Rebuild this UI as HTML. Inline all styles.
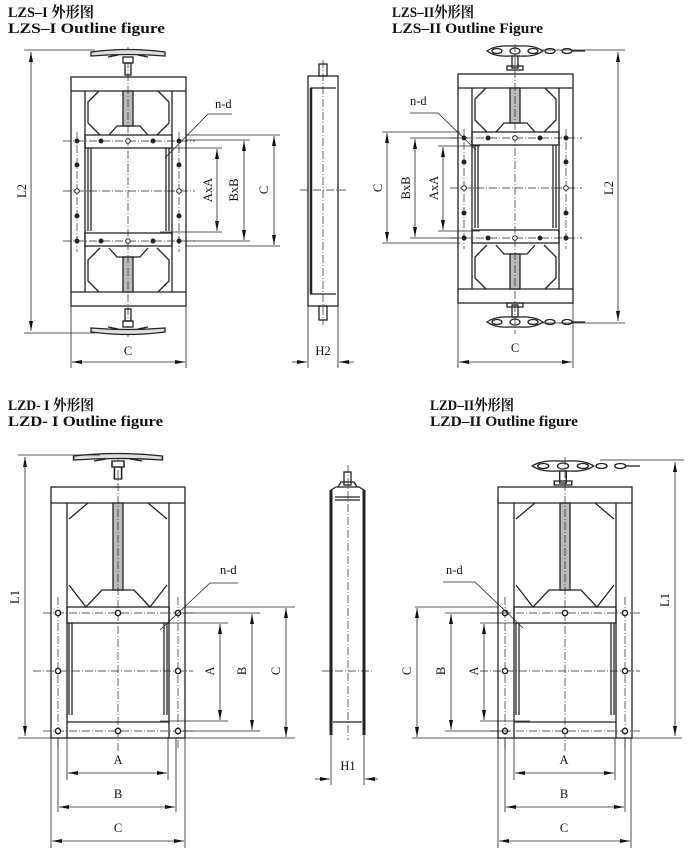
<!DOCTYPE html>
<html><head><meta charset="utf-8"><style>
html,body{margin:0;padding:0;background:#fff}
svg{display:block}
.t{font-family:"Liberation Serif","Noto Serif CJK SC",serif;font-weight:bold;font-size:15px;fill:#111}
.l{font-family:"Liberation Serif",serif;font-size:12.5px;fill:#111}
</style></head><body>
<svg width="690" height="866" viewBox="0 0 690 866" xmlns="http://www.w3.org/2000/svg">
<defs>
<marker id="a" viewBox="0 0 10 6" refX="10" refY="3" markerWidth="10" markerHeight="6" orient="auto-start-reverse" markerUnits="userSpaceOnUse"><path d="M0,1 L10,3 L0,5 z" fill="#111"/></marker>
<g id="zs" fill="none" stroke="#222" stroke-width="1.3">
 <rect x="0" y="0" width="115" height="229"/>
 <line x1="0" y1="14" x2="115" y2="14"/><line x1="0" y1="215" x2="115" y2="215"/>
 <line x1="14" y1="14" x2="14" y2="215"/><line x1="101" y1="14" x2="101" y2="215"/>
 <rect x="14" y="58" width="87" height="13"/><rect x="14" y="156" width="87" height="13"/>
 <line x1="17" y1="71" x2="17" y2="154"/><line x1="20" y1="71" x2="20" y2="154"/>
 <line x1="98" y1="71" x2="98" y2="154"/><line x1="95" y1="71" x2="95" y2="154"/>
 <polyline points="28,14 17,25 17,46 29,58"/><polyline points="87,14 98,25 98,46 86,58"/>
 <polyline points="38,58 46,49 69,49 77,58"/>
 <polyline points="28,215 17,204 17,183 29,171"/><polyline points="87,215 98,204 98,183 86,171"/>
 <polyline points="38,171 46,180 69,180 77,171"/>
 <rect x="52" y="14" width="10" height="35" fill="#bbb"/><rect x="52" y="180" width="10" height="35" fill="#bbb"/>
 <g stroke-width="0.7" stroke-dasharray="8,2,1,2"><line x1="57" y1="-30" x2="57" y2="260"/><line x1="-8" y1="64" x2="124" y2="64"/><line x1="-8" y1="164" x2="124" y2="164"/><line x1="6" y1="55" x2="6" y2="175"/><line x1="108" y1="55" x2="108" y2="175"/><line x1="-8" y1="114" x2="124" y2="114"/></g>
 <g fill="#222" stroke="none"><circle cx="6" cy="64" r="2.5"/><circle cx="30" cy="64" r="2.5"/><circle cx="82" cy="64" r="2.5"/><circle cx="108" cy="64" r="2.5"/><circle cx="6" cy="164" r="2.5"/><circle cx="30" cy="164" r="2.5"/><circle cx="82" cy="164" r="2.5"/><circle cx="108" cy="164" r="2.5"/><circle cx="6" cy="88" r="2.5"/><circle cx="6" cy="139" r="2.5"/><circle cx="108" cy="88" r="2.5"/><circle cx="108" cy="139" r="2.5"/></g>
 <g fill="#fff" stroke-width="1"><circle cx="57" cy="64" r="2.3"/><circle cx="57" cy="164" r="2.3"/><circle cx="6" cy="114" r="2.3"/><circle cx="108" cy="114" r="2.3"/></g>
</g>
<g id="zd" fill="none" stroke="#222" stroke-width="1.3">
 <rect x="0" y="0" width="134" height="251"/>
 <line x1="0" y1="16" x2="134" y2="16"/>
 <line x1="16" y1="16" x2="16" y2="251"/><line x1="118" y1="16" x2="118" y2="251"/>
 <rect x="16" y="120" width="102" height="16"/>
 <line x1="16" y1="235" x2="118" y2="235"/>
 <line x1="18" y1="136" x2="18" y2="228"/><line x1="21" y1="136" x2="21" y2="228"/>
 <line x1="116" y1="136" x2="116" y2="228"/><line x1="113" y1="136" x2="113" y2="228"/>
 <polyline points="37,16 18,32"/><polyline points="97,16 116,32"/>
 <polyline points="18,98 35,120 51,103 83,103 99,120 116,98"/>
 <rect x="62" y="16" width="10" height="87" fill="#bbb"/>
 <g stroke-width="0.7" stroke-dasharray="8,2,1,2"><line x1="67" y1="-30" x2="67" y2="265"/><line x1="-8" y1="126" x2="142" y2="126"/><line x1="-18" y1="184" x2="142" y2="184"/><line x1="-8" y1="244" x2="142" y2="244"/><line x1="7" y1="110" x2="7" y2="262"/><line x1="127" y1="110" x2="127" y2="262"/></g>
 <g fill="#fff" stroke-width="1.5"><circle cx="7" cy="126" r="2.6"/><circle cx="67" cy="126" r="2.6"/><circle cx="127" cy="126" r="2.6"/><circle cx="7" cy="184" r="2.6"/><circle cx="127" cy="184" r="2.6"/><circle cx="7" cy="244" r="2.6"/><circle cx="67" cy="244" r="2.6"/><circle cx="127" cy="244" r="2.6"/></g>
</g>
<g id="hw" fill="none" stroke="#222" stroke-width="1.3">
 <path d="M-37,-3 Q0,-8 37,-3 L37,1 Q0,-2 -37,1 Z" fill="#ddd"/>
 <path d="M-10,0 L-20,2 M10,0 L20,2"/>
 <rect x="-5" y="2" width="10" height="6" fill="#fff"/><rect x="-3" y="8" width="6" height="12"/>
</g>
<g id="ch" fill="none" stroke="#222" stroke-width="1.3">
 <path d="M-28,0 Q-20,-6 -5,-5 L5,-5 Q20,-6 28,0 Q20,6 5,5 L-5,5 Q-20,6 -28,0Z"/>
 <ellipse cx="0" cy="0" rx="5" ry="3"/><ellipse cx="-18" cy="0" rx="5" ry="2.5"/><ellipse cx="18" cy="0" rx="5" ry="2.5"/>
 <ellipse cx="35" cy="0" rx="5" ry="2.5"/><ellipse cx="52" cy="0" rx="5" ry="2.5"/><line x1="57" y1="0" x2="70" y2="0"/>
 <rect x="-3" y="5" width="6" height="12"/><rect x="-8" y="15" width="16" height="4"/>
</g>
</defs>

<text class="t" x="8" y="17" textLength="86" lengthAdjust="spacingAndGlyphs">LZS–I 外形图</text>
<text class="t" x="8" y="33" textLength="157" lengthAdjust="spacingAndGlyphs">LZS–I Outline figure</text>
<text class="t" x="392" y="17" textLength="82" lengthAdjust="spacingAndGlyphs">LZS–II外形图</text>
<text class="t" x="392" y="33" textLength="151" lengthAdjust="spacingAndGlyphs">LZS–II Outline Figure</text>
<text class="t" x="8" y="410" textLength="86" lengthAdjust="spacingAndGlyphs">LZD- I 外形图</text>
<text class="t" x="8" y="426" textLength="155" lengthAdjust="spacingAndGlyphs">LZD- I  Outline figure</text>
<text class="t" x="430" y="410" textLength="84" lengthAdjust="spacingAndGlyphs">LZD–II外形图</text>
<text class="t" x="430" y="426" textLength="148" lengthAdjust="spacingAndGlyphs">LZD–II Outline figure</text>

<!-- LZS-I -->
<use href="#zs" x="71" y="77"/>
<use href="#hw" x="128" y="55"/>
<use href="#hw" transform="translate(128,329) scale(1,-1)"/>
<g stroke="#222" stroke-width="0.8" fill="none">
 <line x1="24" y1="50" x2="95" y2="50"/><line x1="24" y1="333" x2="95" y2="333"/>
 <line x1="31" y1="52" x2="31" y2="331" marker-start="url(#a)" marker-end="url(#a)"/>
 <line x1="71" y1="306" x2="71" y2="368"/><line x1="186" y1="306" x2="186" y2="368"/>
 <line x1="72" y1="362" x2="185" y2="362" marker-start="url(#a)" marker-end="url(#a)"/>
 <line x1="186" y1="135" x2="280" y2="135"/><line x1="186" y1="246" x2="280" y2="246"/>
 <line x1="186" y1="140" x2="250" y2="140"/><line x1="186" y1="241" x2="250" y2="241"/>
 <line x1="160" y1="148" x2="222" y2="148"/><line x1="160" y1="232" x2="222" y2="232"/>
 <line x1="274" y1="136" x2="274" y2="245" marker-start="url(#a)" marker-end="url(#a)"/>
 <line x1="244" y1="141" x2="244" y2="240" marker-start="url(#a)" marker-end="url(#a)"/>
 <line x1="217" y1="149" x2="217" y2="231" marker-start="url(#a)" marker-end="url(#a)"/>
 <polyline points="232,114 208,114 165,158"/>
</g>
<text class="l" x="128" y="355" text-anchor="middle">C</text>
<text class="l" transform="translate(26,191) rotate(-90)" text-anchor="middle">L2</text>
<text class="l" transform="translate(212,190) rotate(-90)" text-anchor="middle">AxA</text>
<text class="l" transform="translate(238,190) rotate(-90)" text-anchor="middle">BxB</text>
<text class="l" transform="translate(268,190) rotate(-90)" text-anchor="middle">C</text>
<text class="l" x="215" y="108">n-d</text>

<!-- side H2 -->
<g stroke="#222" fill="none" stroke-width="1.3">
 <rect x="308" y="76" width="30" height="230"/>
 <line x1="310" y1="88" x2="336" y2="88"/><line x1="310" y1="294" x2="336" y2="294"/>
 <line x1="311" y1="88" x2="311" y2="294" stroke-width="2.5"/>
 <rect x="319" y="64" width="8" height="12"/><rect x="319" y="306" width="8" height="14"/>
 <g stroke-width="0.7" stroke-dasharray="8,2,1,2"><line x1="323" y1="60" x2="323" y2="325"/><line x1="300" y1="190" x2="346" y2="190"/></g>
 <g stroke-width="0.8"><line x1="308" y1="306" x2="308" y2="368"/><line x1="338" y1="306" x2="338" y2="368"/>
 <line x1="292" y1="362" x2="307" y2="362" marker-end="url(#a)"/><line x1="354" y1="362" x2="339" y2="362" marker-end="url(#a)"/></g>
</g>
<text class="l" x="323" y="355" text-anchor="middle">H2</text>

<!-- LZS-II -->
<use href="#zs" x="458" y="74"/>
<use href="#ch" x="515" y="51"/>
<use href="#ch" transform="translate(515,322) scale(1,-1)"/>
<g stroke="#222" stroke-width="0.8" fill="none">
 <line x1="540" y1="50" x2="625" y2="50"/><line x1="540" y1="323" x2="625" y2="323"/>
 <line x1="618" y1="52" x2="618" y2="321" marker-start="url(#a)" marker-end="url(#a)"/>
 <line x1="458" y1="303" x2="458" y2="368"/><line x1="573" y1="303" x2="573" y2="368"/>
 <line x1="459" y1="362" x2="572" y2="362" marker-start="url(#a)" marker-end="url(#a)"/>
 <line x1="382" y1="132" x2="460" y2="132"/><line x1="382" y1="243" x2="460" y2="243"/>
 <line x1="410" y1="138" x2="460" y2="138"/><line x1="410" y1="238" x2="460" y2="238"/>
 <line x1="438" y1="146" x2="480" y2="146"/><line x1="438" y1="231" x2="480" y2="231"/>
 <line x1="387" y1="133" x2="387" y2="242" marker-start="url(#a)" marker-end="url(#a)"/>
 <line x1="415" y1="139" x2="415" y2="237" marker-start="url(#a)" marker-end="url(#a)"/>
 <line x1="443" y1="147" x2="443" y2="230" marker-start="url(#a)" marker-end="url(#a)"/>
 <polyline points="410,113 438,113 476,150"/>
</g>
<text class="l" x="515" y="352" text-anchor="middle">C</text>
<text class="l" transform="translate(613,188) rotate(-90)" text-anchor="middle">L2</text>
<text class="l" transform="translate(382,188) rotate(-90)" text-anchor="middle">C</text>
<text class="l" transform="translate(410,188) rotate(-90)" text-anchor="middle">BxB</text>
<text class="l" transform="translate(438,188) rotate(-90)" text-anchor="middle">AxA</text>
<text class="l" x="410" y="105">n-d</text>

<!-- LZD-I -->
<use href="#zd" x="51" y="487"/>
<use href="#hw" transform="translate(118,459) scale(1.2,1)"/>
<g stroke="#222" stroke-width="0.8" fill="none">
 <line x1="18" y1="455" x2="100" y2="455"/><line x1="18" y1="738" x2="295" y2="738"/>
 <line x1="25" y1="457" x2="25" y2="736" marker-start="url(#a)" marker-end="url(#a)"/>
 <line x1="185" y1="607" x2="295" y2="607"/><line x1="180" y1="613" x2="260" y2="613"/><line x1="160" y1="623" x2="228" y2="623"/>
 <line x1="160" y1="721" x2="228" y2="721"/><line x1="180" y1="731" x2="260" y2="731"/>
 <line x1="286" y1="608" x2="286" y2="737" marker-start="url(#a)" marker-end="url(#a)"/>
 <line x1="252" y1="614" x2="252" y2="730" marker-start="url(#a)" marker-end="url(#a)"/>
 <line x1="220" y1="624" x2="220" y2="720" marker-start="url(#a)" marker-end="url(#a)"/>
 <line x1="67" y1="738" x2="67" y2="780"/><line x1="168" y1="738" x2="168" y2="780"/>
 <line x1="58" y1="738" x2="58" y2="812"/><line x1="176" y1="738" x2="176" y2="812"/>
 <line x1="51" y1="738" x2="51" y2="848"/><line x1="185" y1="738" x2="185" y2="848"/>
 <line x1="68" y1="773" x2="167" y2="773" marker-start="url(#a)" marker-end="url(#a)"/>
 <line x1="59" y1="807" x2="175" y2="807" marker-start="url(#a)" marker-end="url(#a)"/>
 <line x1="52" y1="841" x2="184" y2="841" marker-start="url(#a)" marker-end="url(#a)"/>
 <polyline points="238,583 210,583 160,630"/>
</g>
<text class="l" x="118" y="764" text-anchor="middle">A</text>
<text class="l" x="118" y="798" text-anchor="middle">B</text>
<text class="l" x="118" y="832" text-anchor="middle">C</text>
<text class="l" transform="translate(19,597) rotate(-90)" text-anchor="middle">L1</text>
<text class="l" transform="translate(214,671) rotate(-90)" text-anchor="middle">A</text>
<text class="l" transform="translate(246,671) rotate(-90)" text-anchor="middle">B</text>
<text class="l" transform="translate(280,671) rotate(-90)" text-anchor="middle">C</text>
<text class="l" x="220" y="574">n-d</text>

<!-- side H1 -->
<g stroke="#222" fill="none" stroke-width="1.3">
 <path d="M331,735 L331,490 L336,487 L359,487 L364,490 L364,735"/>
 <line x1="331" y1="735" x2="331" y2="490" stroke-width="3"/><line x1="364" y1="735" x2="364" y2="490" stroke-width="3"/>
 <line x1="335" y1="497" x2="360" y2="497"/><line x1="335" y1="500" x2="360" y2="500"/>
 <line x1="333" y1="722" x2="362" y2="722"/>
 <rect x="344" y="472" width="7" height="13"/><path d="M338,487 L341,482 L354,482 L357,487"/>
 <g stroke-width="0.7" stroke-dasharray="8,2,1,2"><line x1="348" y1="465" x2="348" y2="740"/><line x1="322" y1="671" x2="374" y2="671"/></g>
 <g stroke-width="0.8"><line x1="331" y1="735" x2="331" y2="785"/><line x1="364" y1="735" x2="364" y2="785"/>
 <line x1="315" y1="779" x2="330" y2="779" marker-end="url(#a)"/><line x1="378" y1="779" x2="365" y2="779" marker-end="url(#a)"/></g>
</g>
<text class="l" x="348" y="770" text-anchor="middle">H1</text>

<!-- LZD-II -->
<use href="#zd" x="498" y="487"/>
<use href="#ch" transform="translate(563,466) scale(1.1,1)"/>
<g stroke="#222" stroke-width="0.8" fill="none">
 <line x1="600" y1="460" x2="684" y2="460"/><line x1="412" y1="738" x2="682" y2="738"/>
 <line x1="675" y1="462" x2="675" y2="736" marker-start="url(#a)" marker-end="url(#a)"/>
 <line x1="415" y1="607" x2="498" y2="607"/><line x1="445" y1="613" x2="510" y2="613"/><line x1="480" y1="623" x2="530" y2="623"/>
 <line x1="480" y1="721" x2="530" y2="721"/><line x1="445" y1="731" x2="510" y2="731"/>
 <line x1="417" y1="608" x2="417" y2="737" marker-start="url(#a)" marker-end="url(#a)"/>
 <line x1="451" y1="614" x2="451" y2="730" marker-start="url(#a)" marker-end="url(#a)"/>
 <line x1="484" y1="624" x2="484" y2="720" marker-start="url(#a)" marker-end="url(#a)"/>
 <line x1="514" y1="738" x2="514" y2="780"/><line x1="615" y1="738" x2="615" y2="780"/>
 <line x1="505" y1="738" x2="505" y2="812"/><line x1="625" y1="738" x2="625" y2="812"/>
 <line x1="498" y1="738" x2="498" y2="848"/><line x1="631" y1="738" x2="631" y2="848"/>
 <line x1="515" y1="773" x2="614" y2="773" marker-start="url(#a)" marker-end="url(#a)"/>
 <line x1="506" y1="807" x2="624" y2="807" marker-start="url(#a)" marker-end="url(#a)"/>
 <line x1="499" y1="841" x2="630" y2="841" marker-start="url(#a)" marker-end="url(#a)"/>
 <polyline points="443,582 475,582 523,628"/>
</g>
<text class="l" x="564" y="764" text-anchor="middle">A</text>
<text class="l" x="564" y="798" text-anchor="middle">B</text>
<text class="l" x="564" y="832" text-anchor="middle">C</text>
<text class="l" transform="translate(669,600) rotate(-90)" text-anchor="middle">L1</text>
<text class="l" transform="translate(411,671) rotate(-90)" text-anchor="middle">C</text>
<text class="l" transform="translate(445,671) rotate(-90)" text-anchor="middle">B</text>
<text class="l" transform="translate(478,671) rotate(-90)" text-anchor="middle">A</text>
<text class="l" x="446" y="574">n-d</text>
</svg>
</body></html>
